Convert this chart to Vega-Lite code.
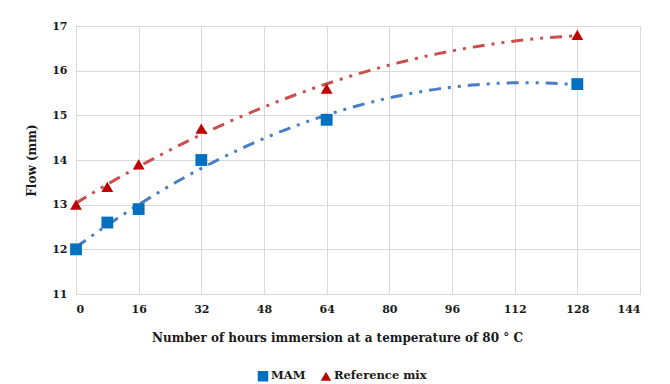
{
  "$schema": "https://vega.github.io/schema/vega-lite/v6.json",
  "width": 564,
  "height": 268,
  "autosize": {"type": "none"},
  "padding": {"left": 76, "top": 26, "right": 30, "bottom": 90},
  "background": "white",
  "config": {
    "font": "DejaVu Serif",
    "view": {"stroke": "#d9d9d9", "strokeWidth": 1},
    "axis": {
      "labelFont": "DejaVu Serif",
      "labelFontWeight": "bold",
      "labelFontSize": 11,
      "labelColor": "#1a1a1a",
      "titleFont": "DejaVu Serif",
      "titleFontWeight": "bold",
      "titleFontSize": 12,
      "titleColor": "#1a1a1a",
      "gridColor": "#d9d9d9",
      "gridWidth": 1,
      "ticks": false,
      "domainColor": "#d9d9d9"
    },
    "legend": {
      "labelFont": "DejaVu Serif",
      "labelFontWeight": "bold",
      "labelFontSize": 11.5,
      "labelColor": "#1a1a1a"
    }
  },
  "data": {
    "values": [
      {"hours": 0, "flow": 12.0, "series": "MAM"},
      {"hours": 8, "flow": 12.6, "series": "MAM"},
      {"hours": 16, "flow": 12.9, "series": "MAM"},
      {"hours": 32, "flow": 14.0, "series": "MAM"},
      {"hours": 64, "flow": 14.9, "series": "MAM"},
      {"hours": 128, "flow": 15.7, "series": "MAM"},
      {"hours": 0, "flow": 13.0, "series": "Reference mix"},
      {"hours": 8, "flow": 13.4, "series": "Reference mix"},
      {"hours": 16, "flow": 13.9, "series": "Reference mix"},
      {"hours": 32, "flow": 14.7, "series": "Reference mix"},
      {"hours": 64, "flow": 15.6, "series": "Reference mix"},
      {"hours": 128, "flow": 16.8, "series": "Reference mix"}
    ]
  },
  "layer": [
    {
      "transform": [
        {"filter": "datum.series === 'MAM'"},
        {"regression": "flow", "on": "hours", "method": "poly", "order": 2, "extent": [0, 128]}
      ],
      "mark": {"type": "line", "color": "#4a7ec4", "strokeWidth": 3, "strokeDash": [12, 7, 3, 7, 3, 7], "clip": true},
      "encoding": {
        "x": {"field": "hours", "type": "quantitative"},
        "y": {"field": "flow", "type": "quantitative"}
      }
    },
    {
      "transform": [
        {"filter": "datum.series === 'Reference mix'"},
        {"regression": "flow", "on": "hours", "method": "poly", "order": 2, "extent": [0, 128]}
      ],
      "mark": {"type": "line", "color": "#c9504c", "strokeWidth": 3, "strokeDash": [12, 7, 3, 7, 3, 7], "clip": true},
      "encoding": {
        "x": {"field": "hours", "type": "quantitative"},
        "y": {"field": "flow", "type": "quantitative"}
      }
    },
    {
      "mark": {"type": "point", "filled": true, "opacity": 1, "size": 140},
      "encoding": {
        "x": {
          "field": "hours", "type": "quantitative",
          "scale": {"domain": [0, 144], "nice": false},
          "axis": {"values": [0, 16, 32, 48, 64, 80, 96, 112, 128, 144], "labelPadding": 9, "title": "Number of hours immersion at a temperature of 80 ° C", "titlePadding": 18, "titleX": 261}
        },
        "y": {
          "field": "flow", "type": "quantitative",
          "scale": {"domain": [11, 17], "nice": false, "zero": false},
          "axis": {"values": [11, 12, 13, 14, 15, 16, 17], "labelPadding": 9, "domain": false, "title": "Flow (mm)", "titlePadding": 13}
        },
        "color": {
          "field": "series", "type": "nominal",
          "scale": {"domain": ["MAM", "Reference mix"], "range": ["#0070c0", "#c00000"]},
          "legend": {"title": null, "orient": "none", "legendX": 181, "legendY": 344, "direction": "horizontal", "symbolSize": 110, "columnPadding": 14, "labelOffset": 2}
        },
        "shape": {
          "field": "series", "type": "nominal",
          "scale": {"domain": ["MAM", "Reference mix"], "range": ["square", "triangle-up"]}
        }
      }
    }
  ]
}
